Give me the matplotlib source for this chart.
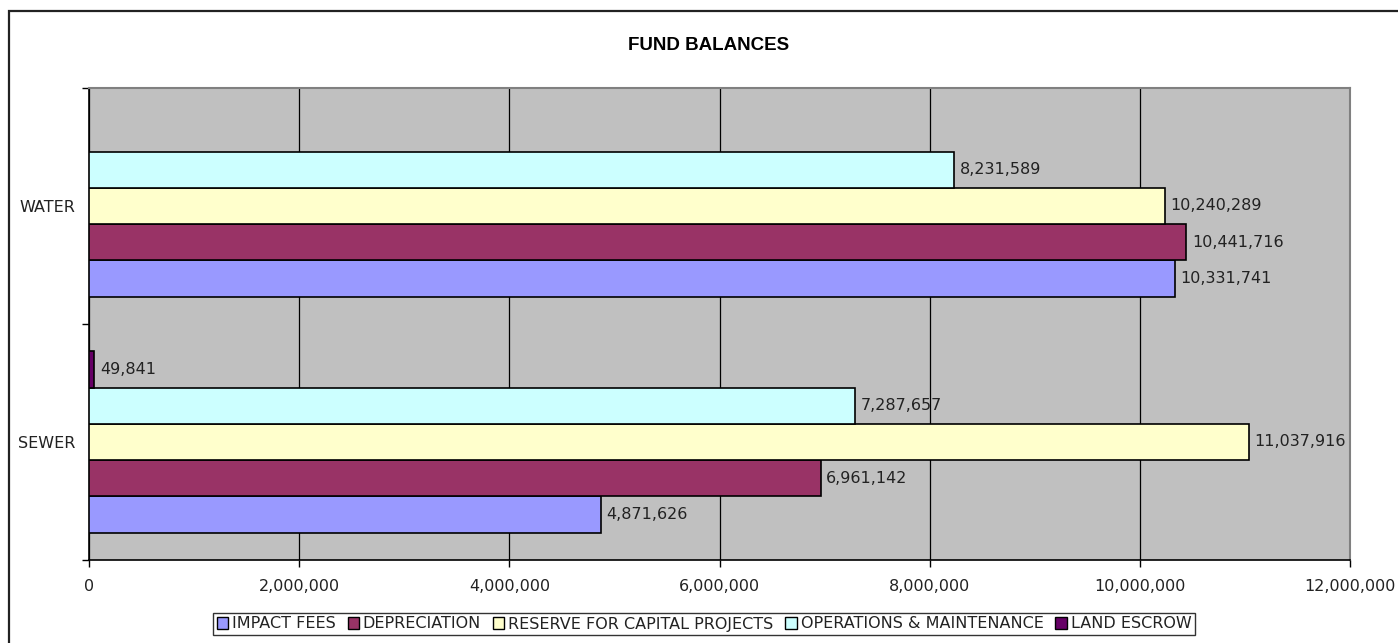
import matplotlib
matplotlib.use("Agg")
import matplotlib.pyplot as plt
import numpy as np
from matplotlib.patches import Rectangle, Patch

# data
categories = ["SEWER", "WATER"]
series_names = [
    "IMPACT FEES",
    "DEPRECIATION",
    "RESERVE FOR CAPITAL PROJECTS",
    "OPERATIONS & MAINTENANCE",
    "LAND ESCROW",
]
impact_fees = [4871626, 10331741]
depreciation = [6961142, 10441716]
reserve_capital = [11037916, 10240289]
operations_maint = [7287657, 8231589]
land_escrow = [49841, 0]
series_values = [impact_fees, depreciation, reserve_capital, operations_maint, land_escrow]
series_colors = ["#9999FF", "#993366", "#FFFFCC", "#CCFFFF", "#660066"]
x_ticks = [0, 2000000, 4000000, 6000000, 8000000, 10000000, 12000000]

W, H = 1398, 643
fig = plt.figure(figsize=(W / 100, H / 100), dpi=100)
plt.rcParams["font.family"] = ["DejaVu Sans"]

# outer chart frame (right/bottom edges fall outside the image)
fig.patches.append(Rectangle((9 / W, -0.1), 1.2, 1 - 11 / H + 0.1,
                             transform=fig.transFigure, fill=False,
                             edgecolor="#222222", linewidth=1.6))

left, right = 89 / W, 1350 / W
bottom, top = 1 - 560 / H, 1 - 88 / H
ax = fig.add_axes([left, bottom, right - left, top - bottom])
ax.set_facecolor("#C0C0C0")

n = len(series_names)
h = 1 / 6.5
ypos = np.arange(len(categories))
for i, (name, vals, col) in enumerate(zip(series_names, series_values, series_colors)):
    yy = ypos + (i - (n - 1) / 2) * h
    ax.barh(yy, vals, height=h, color=col, edgecolor="black", linewidth=1.2,
            label=name, zorder=3)
    for y, v in zip(yy, vals):
        if v:
            ax.annotate(f"{v:,}", (v, y), xytext=(4, 0), textcoords="offset points",
                        ha="left", va="center", fontsize=11.5, color="#222222")

ax.set_xlim(0, 12000000)
ax.set_ylim(-0.5, 1.5)
ax.set_xticks(x_ticks)
ax.set_xticklabels([f"{t:,}" for t in x_ticks], fontsize=11.5, color="#222222")
ax.tick_params(axis="x", length=5, width=1, pad=9)
ax.grid(axis="x", color="black", linewidth=0.9, zorder=1)

ax.set_yticks([-0.5, 0.5, 1.5])
ax.set_yticklabels([])
ax.set_yticks(ypos, minor=True)
ax.set_yticklabels(categories, minor=True, fontsize=11.5, color="#222222")
ax.tick_params(axis="y", which="major", length=5, width=1)
ax.tick_params(axis="y", which="minor", length=0, pad=10)

for s in ["top", "right"]:
    ax.spines[s].set_color("#808080")
    ax.spines[s].set_linewidth(1.5)
for s in ["left", "bottom"]:
    ax.spines[s].set_color("black")
    ax.spines[s].set_linewidth(1.2)

fig.text(709 / W, 1 - 45 / H, "FUND BALANCES", ha="center", va="center",
         fontsize=13.5, fontweight="bold", family="Liberation Sans")

handles = [Patch(facecolor=c, edgecolor="black", linewidth=1) for c in series_colors]
leg = fig.legend(handles, series_names, loc="center", bbox_to_anchor=(704 / W, 1 - 624 / H),
                 ncol=5, fontsize=11.5, frameon=True, fancybox=False, edgecolor="black",
                 handlelength=0.7, handleheight=0.7, handletextpad=0.25, columnspacing=0.75,
                 borderpad=0.2, borderaxespad=0)
leg.get_frame().set_linewidth(1)
for t in leg.get_texts():
    t.set_color("#222222")

fig.savefig("out.png", dpi=100)
